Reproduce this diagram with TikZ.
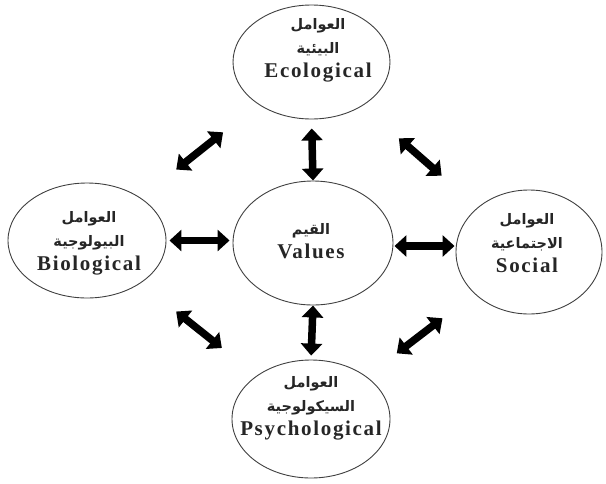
\documentclass[tikz,border=0pt]{standalone}
\usepackage{fontspec}
\setmainfont{Liberation Serif}
\newfontfamily\arabicfont[Script=Arabic]{DejaVu Sans}
\newfontfamily\enfont[LetterSpace=8]{Liberation Serif}
\TeXXeTstate=1
\usetikzlibrary{shapes.geometric,arrows.meta}
\newcommand{\ar}[1]{{\arabicfont\bfseries\fontsize{14.5}{24}\selectfont\beginR #1\endR}}
\newcommand{\en}[1]{{\enfont\bfseries\fontsize{21}{26}\selectfont #1}}
\tikzset{
  ell/.style={ellipse, draw=black!75, line width=0.9pt, inner sep=0pt},
  lbl/.style={align=center, text=black!85, inner sep=0pt, font=\fontsize{14}{24}\selectfont},
  dbl/.style={draw=black, line width=7.5pt, {Triangle[length=12pt,width=21pt]}-{Triangle[length=12pt,width=21pt]}}
}
\begin{document}
\begin{tikzpicture}[x=1pt,y=-1pt]
\useasboundingbox (0,0) rectangle (606,483);
\fill[white] (0,0) rectangle (606,483);
% ellipses
\node[ell, minimum width=157pt, minimum height=114pt] (eco) at (311.5,62) {};
\node[ell, minimum width=160pt, minimum height=124pt] (val) at (313,243) {};
\node[ell, minimum width=158pt, minimum height=115pt] (bio) at (87,240.5) {};
\node[ell, minimum width=146pt, minimum height=124pt] (soc) at (529,252) {};
\node[ell, minimum width=158pt, minimum height=118pt] (psy) at (311,419) {};
% labels
\node[lbl] (ecoT) at (318,50) {\ar{العوامل}\\\ar{البيئية}\\\en{Ecological}};
\node[lbl] (valT) at (311,241) {\ar{القيم}\\\en{Values}};
\node[lbl] (bioT) at (89,243) {\ar{العوامل}\\\ar{البيولوجية}\\\en{Biological}};
\node[lbl] (socT) at (527,243) {\ar{العوامل}\\\ar{الاجتماعية}\\\en{Social}};
\node[lbl] (psyT) at (311,408) {\ar{العوامل}\\\ar{السيكولوجية}\\\en{Psychological}};
% arrows
\draw[dbl, shorten <=9pt, shorten >=0pt] (eco.south) -- (val.north);
\draw[dbl, shorten <=0pt, shorten >=4pt] (val.south) -- (psy.north);
\draw[dbl, shorten <=3pt, shorten >=3pt] (bio.east) -- (bio.east -| val.west);
\draw[dbl, shorten <=1pt, shorten >=1pt] ([yshift=-3pt]val.east) -- ([yshift=-3pt]val.east -| soc.west);
\draw[dbl, shorten <=114pt, shorten >=113pt] (bio.center) -- (eco.center);
\draw[dbl, shorten <=116pt, shorten >=116pt] (eco.center) -- (soc.center);
\draw[dbl, shorten <=114pt, shorten >=114pt] (bio.center) -- (psy.center);
\draw[dbl, shorten <=109pt, shorten >=108pt] (soc.center) -- (psy.center);
\end{tikzpicture}
\end{document}
